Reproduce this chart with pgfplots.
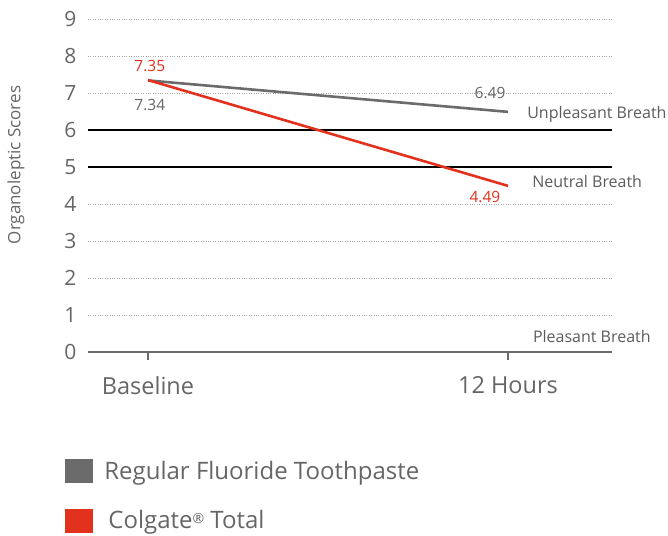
\documentclass[border=0pt]{standalone}
\usepackage{fontspec}
\setmainfont{Open Sans}
\usepackage{pgfplots}
\pgfplotsset{compat=1.18}
\definecolor{txtgray}{HTML}{666666}
\definecolor{linegray}{HTML}{6B6B6B}
\definecolor{cred}{HTML}{E2311D}
\begin{document}
\begin{tikzpicture}
\useasboundingbox (0,0) rectangle (668pt,-535pt);
\begin{axis}[
 at={(88pt,-352pt)}, anchor=south west,
 scale only axis, width=524pt, height=333pt,
 xmin=-0.16667, xmax=1.28889, ymin=0, ymax=9,
 axis x line*=bottom, axis y line*=left,
 x axis line style={draw=linegray, line width=1.5pt, -},
 y axis line style={draw=none},
 xtick={0,1}, xticklabels={Baseline,12 Hours},
 ytick={0,1,...,9},
 tick align=outside,
 xtick style={draw=linegray, line width=1.5pt},
 major tick length=8pt,
 ytick style={draw=none},
 ymajorgrids, grid style={dotted, gray!70, line width=0.8pt},
 yticklabel style={font=\fontsize{21}{25}\selectfont, text=txtgray},
 xticklabel style={font=\fontsize{23.5}{27}\selectfont, text=txtgray, yshift=-13pt},
 /pgf/number format/assume math mode=true,
 ylabel={Organoleptic Scores},
 ylabel style={at={(axis description cs:-0.1374,0.5616)}, anchor=center, font=\fontsize{17}{20}\selectfont, text=txtgray},
 clip=false,
 legend style={at={(axis description cs:-0.0439,-0.3213)}, anchor=north west, draw=none, fill=none,
   inner sep=0pt, outer sep=0pt,
   font=\fontsize{24}{28}\selectfont, text=txtgray, row sep=26pt,
   /tikz/every odd column/.append style={column sep=10pt}},
 legend cell align=left,
]
\addlegendimage{legend image code/.code={\fill[linegray] (0pt,-11.5pt) rectangle (27pt,11.5pt);}}
\addlegendentry{Regular Fluoride Toothpaste}
\addlegendimage{legend image code/.code={\fill[cred] (0pt,-11.5pt) rectangle (27pt,11.5pt);}}
\addlegendentry{\,Colgate{\fontsize{14}{14}\selectfont\raisebox{5pt}{®}} Total}
\addplot[black, line width=2.2pt, forget plot] coordinates {(-0.16667,6) (1.28889,6)};
\addplot[black, line width=2.2pt, forget plot] coordinates {(-0.16667,5) (1.28889,5)};
\addplot[linegray, line width=2.6pt, forget plot] coordinates {(0,7.34) (1,6.49)};
\addplot[cred, line width=2.6pt, forget plot] coordinates {(0,7.35) (1,4.49)};
\node[text=cred, font=\fontsize{15.5}{18}\selectfont] at (axis cs:0.005,7.72) {7.35};
\node[text=txtgray, font=\fontsize{15.5}{18}\selectfont] at (axis cs:0.005,6.68) {7.34};
\node[text=txtgray, font=\fontsize{15.5}{18}\selectfont] at (axis cs:0.95,7.0) {6.49};
\node[text=cred, font=\fontsize{15.5}{18}\selectfont] at (axis cs:0.936,4.19) {4.49};
\node[text=txtgray!90!black, anchor=west, inner sep=0pt, font=\fontsize{16}{19}\selectfont] at (axis cs:1.053,6.43) {Unpleasant Breath};
\node[text=txtgray!90!black, anchor=west, inner sep=0pt, font=\fontsize{16}{19}\selectfont] at (axis cs:1.067,4.62) {Neutral Breath};
\node[text=txtgray!90!black, anchor=west, inner sep=0pt, font=\fontsize{16}{19}\selectfont] at (axis cs:1.069,0.43) {Pleasant Breath};
\end{axis}
\end{tikzpicture}
\end{document}
